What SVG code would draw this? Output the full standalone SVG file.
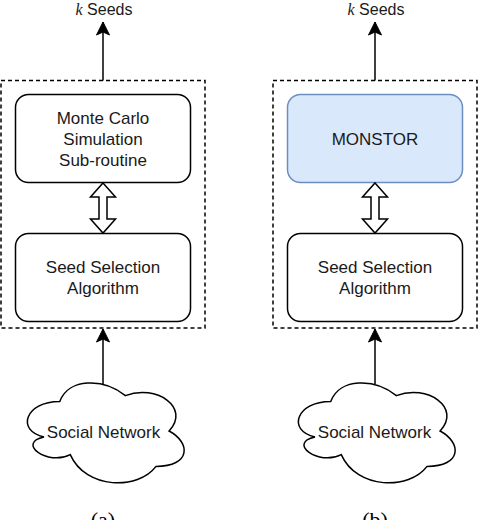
<svg xmlns="http://www.w3.org/2000/svg" width="480" height="520" viewBox="0 0 480 520">
<defs>
<style>
.dash{fill:none;stroke:#000;stroke-width:1.5;stroke-dasharray:4 3}
.box{fill:#fff;stroke:#000;stroke-width:1.5}
.blue{fill:#dae8fc;stroke:#6c8ebf;stroke-width:1.5}
.t{font-family:"Liberation Sans",Arial,sans-serif;font-size:17px;fill:#1a1a1a;text-anchor:middle}
.top{font-size:16px}
.cap{font-family:"Liberation Serif","Times New Roman",serif;font-size:22px;fill:#000;text-anchor:middle}
.line{fill:none;stroke:#000;stroke-width:1.5}
.dbl{fill:#fff;stroke:#000;stroke-width:1.5;stroke-linejoin:miter}
.cloud{fill:#fff;stroke:#000;stroke-width:1.5}
</style>
<marker id="arr" viewBox="-14 -7 15 14" refX="0" refY="0" markerWidth="15" markerHeight="14" markerUnits="userSpaceOnUse" orient="auto">
<path d="M0,0 L-13,-6.5 L-10,0 L-13,6.5 Z" fill="#000" stroke="#000" stroke-width="1"/>
</marker>
</defs>

<g id="panel-a-container"><rect class="dash" x="1" y="80.5" width="204" height="247.5"/></g>
<g id="panel-b-container"><rect class="dash" x="273" y="80.5" width="204" height="247.5"/></g>

<g id="mc-box"><rect class="box" x="15.5" y="94.5" width="175" height="88" rx="13"/>
<text class="t" x="103" y="124">Monte Carlo</text>
<text class="t" x="103" y="145">Simulation</text>
<text class="t" x="103" y="166">Sub-routine</text></g>

<g id="seed-a"><rect class="box" x="15.5" y="233.5" width="175" height="88" rx="13"/>
<text class="t" x="103" y="273">Seed Selection</text>
<text class="t" x="103" y="294">Algorithm</text></g>

<g id="monstor"><rect class="blue" x="287.5" y="94.5" width="175" height="88" rx="13"/>
<text class="t" x="375" y="145">MONSTOR</text></g>

<g id="seed-b"><rect class="box" x="287.5" y="233.5" width="175" height="88" rx="13"/>
<text class="t" x="375" y="273">Seed Selection</text>
<text class="t" x="375" y="294">Algorithm</text></g>

<g id="cloud-a"><path class="cloud" transform="translate(16,372)" d="M43.75,29.5 C8.75,29.5 0,59 28,64.9 C0,70.8 31.5,94.4 54.25,82.6 C70,118 122.5,118 140,94.4 C175,94.4 175,70.8 153.1,59 C175,35.4 140,11.8 109.4,23.6 C87.5,5.9 52.5,5.9 43.75,29.5 Z"/>
<text class="t" x="103.5" y="438">Social Network</text></g>

<g id="cloud-b"><path class="cloud" transform="translate(287,372)" d="M43.75,29.5 C8.75,29.5 0,59 28,64.9 C0,70.8 31.5,94.4 54.25,82.6 C70,118 122.5,118 140,94.4 C175,94.4 175,70.8 153.1,59 C175,35.4 140,11.8 109.4,23.6 C87.5,5.9 52.5,5.9 43.75,29.5 Z"/>
<text class="t" x="374.5" y="438">Social Network</text></g>

<g id="label-a-out"><text class="t top" x="104" y="15"><tspan font-family="Liberation Serif,serif" font-style="italic">k</tspan> Seeds</text></g>
<g id="label-b-out"><text class="t top" x="376" y="15"><tspan font-family="Liberation Serif,serif" font-style="italic">k</tspan> Seeds</text></g>

<g id="connectors">
<line class="line" x1="103" y1="80.5" x2="103" y2="22" marker-end="url(#arr)"/>
<line class="line" x1="375" y1="80.5" x2="375" y2="22" marker-end="url(#arr)"/>
<line class="line" x1="103" y1="384" x2="103" y2="329" marker-end="url(#arr)"/>
<line class="line" x1="375" y1="384" x2="375" y2="329" marker-end="url(#arr)"/>
<path class="dbl" d="M103,183 L115.5,197 L107,197 L107,219 L115.5,219 L103,233 L90.5,219 L99,219 L99,197 L90.5,197 Z"/>
<path class="dbl" d="M375,183 L387.5,197 L379,197 L379,219 L387.5,219 L375,233 L362.5,219 L371,219 L371,197 L362.5,197 Z"/>
</g>

<text class="cap" x="103" y="527">(a)</text>
<text class="cap" x="375" y="527">(b)</text>
</svg>
